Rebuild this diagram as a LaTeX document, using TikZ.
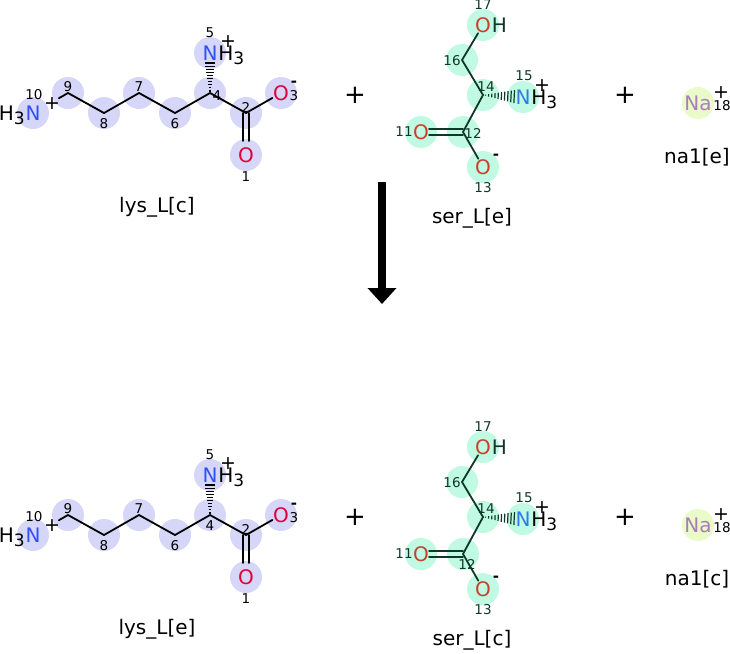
\documentclass[tikz,border=0pt]{standalone}
\usepackage{fontspec}
\setmainfont{DejaVu Sans}
\usetikzlibrary{calc,arrows.meta}
\definecolor{lav}{RGB}{214,214,248}
\definecolor{mint}{RGB}{192,250,226}
\definecolor{nacirc}{RGB}{234,250,200}
\definecolor{nblue}{RGB}{48,80,248}
\definecolor{sblue}{RGB}{45,125,230}
\definecolor{ored}{RGB}{224,0,58}
\definecolor{sred}{RGB}{200,64,44}
\definecolor{napurple}{RGB}{170,125,185}
\definecolor{sdark}{RGB}{16,56,40}
\newcommand{\Hthree}{H\raisebox{-4pt}{\fontsize{17}{17}\selectfont 3}}
\tikzset{
  het/.style={font=\fontsize{20}{20}\selectfont, inner sep=0.5pt},
  hpart/.style={font=\fontsize{20}{20}\selectfont, inner sep=0pt},
  numlab/.style={font=\fontsize{13.5}{13.5}\selectfont, inner sep=0pt},
  chgplus/.style={font=\fontsize{19}{19}\selectfont, inner sep=0pt},
  chgminus/.style={font=\fontsize{15}{15}\selectfont\bfseries, inner sep=0pt},
  bond/.style={line width=1.8pt, line cap=round, line join=round},
  sbond/.style={bond, draw=sdark},
  hashline/.style={line width=1.2pt},
  molname/.style={font=\fontsize{20}{20}\selectfont, inner sep=0pt},
  bigplus/.style={font=\fontsize{26}{26}\selectfont, inner sep=0pt},
}
\newcommand{\hashwedge}[6]{%
  \foreach \i in {0,...,9}{%
    \pgfmathsetmacro\hwt{#3+(#4-#3)*\i/9}%
    \pgfmathsetlengthmacro\hww{0.6+(#5-0.6)*\i/9}%
    \coordinate (hwp) at ($(#1)!\hwt!(#2)$);
    \draw[hashline, draw=#6] ($(hwp)!\hww!90:(#2)$) -- ($(hwp)!\hww!-90:(#2)$);
  }}
% #1 prefix, #2 y shift, #3 name, #4 position of label 4
\newcommand{\lysmol}[4]{%
\begin{scope}[shift={(0,#2)}]
  \coordinate (#1a10) at (33,113);
  \coordinate (#1a9) at (68,93);
  \coordinate (#1a8) at (104,113);
  \coordinate (#1a7) at (139,93);
  \coordinate (#1a6) at (175,113);
  \coordinate (#1a4) at (210,93);
  \coordinate (#1a2) at (246,113);
  \coordinate (#1a3) at (281,93);
  \coordinate (#1a1) at (246,155);
  \coordinate (#1a5) at (210,53);
  \foreach \k in {1,...,10} \fill[lav] (#1a\k) circle (16pt);
  \node[het, text=nblue] (#1N10) at (#1a10) {N};
  \node[hpart, anchor=base east] (#1H10) at (#1N10.base west) {\Hthree};
  \node[chgplus] (#1p10) at (52,104) {+};
  \node[numlab] (#1n10) at (34,95) {10};
  \node[het, text=nblue] (#1N5) at (#1a5) {N};
  \node[hpart, anchor=base west] (#1H5) at (#1N5.base east) {\Hthree};
  \node[chgplus] (#1p5) at (228,42) {+};
  \node[numlab] (#1n5) at (210,33) {5};
  \node[het, text=ored] (#1O3) at (#1a3) {O};
  \node[chgminus] (#1m3) at (294,84) {-};
  \node[numlab] (#1n3) at (294,96) {3};
  \node[het, text=ored] (#1O1) at (#1a1) {O};
  \node[numlab] (#1n1) at (246,177) {1};
  \node[numlab] (#1n9) at (68,87) {9};
  \node[numlab] (#1n8) at (104,124) {8};
  \node[numlab] (#1n7) at (139,87) {7};
  \node[numlab] (#1n6) at (175,124) {6};
  \node[numlab] (#1n4) at (#4) {4};
  \node[numlab] (#1n2) at (246,107) {2};
  \draw[bond] ($(#1a10)!0.74!(#1a9)$) -- (#1a9) -- (#1a8) -- (#1a7) -- (#1a6) -- (#1a4) -- (#1a2) -- (#1O3);
  \draw[bond] ($(#1a2)+(-3,0)$) -- ($(#1a1)+(-3,-14)$);
  \draw[bond] ($(#1a2)+(3,0)$) -- ($(#1a1)+(3,-14)$);
  \hashwedge{#1a4}{#1a5}{0.05}{0.75}{5}{black}
  \node[molname] (#1name) at (157,207) {#3};
\end{scope}}
% #1 prefix, #2 y shift, #3 name, #4 position of label 12
\newcommand{\sermol}[4]{%
\begin{scope}[shift={(0,#2)}]
  \coordinate (#1s17) at (483,25);
  \coordinate (#1s16) at (462,60);
  \coordinate (#1s14) at (483,95);
  \coordinate (#1s15) at (523,97);
  \coordinate (#1s12) at (463,132);
  \coordinate (#1s11) at (421,132);
  \coordinate (#1s13) at (483,167);
  \foreach \k in {11,...,17} \fill[mint] (#1s\k) circle (16pt);
  \node[het, text=sred] (#1O17) at (#1s17) {O};
  \node[hpart, anchor=base west, text=sdark] (#1H17) at (#1O17.base east) {H};
  \node[het, text=sblue] (#1N15) at (#1s15) {N};
  \node[hpart, anchor=base west] (#1H15) at (#1N15.base east) {\Hthree};
  \node[chgplus] (#1p15) at (542,86) {+};
  \node[het, text=sred] (#1O11) at (#1s11) {O};
  \node[het, text=sred] (#1O13) at (#1s13) {O};
  \node[chgminus] (#1m13) at (496,157) {-};
  \node[numlab, text=sdark] (#1n17) at (483,5) {17};
  \node[numlab, text=sdark] (#1n16) at (452,61) {16};
  \node[numlab, text=sdark] (#1n14) at (486,87) {14};
  \node[numlab, text=sdark] (#1n15) at (524,76) {15};
  \node[numlab, text=sdark] (#1n11) at (404,132) {11};
  \node[numlab, text=sdark] (#1n12) at (#4) {12};
  \node[numlab, text=sdark] (#1n13) at (483,188) {13};
  \draw[sbond] (#1O17) -- (#1s16) -- (#1s14) -- (#1s12) -- (#1O13);
  \draw[sbond] ($(#1s12)+(0,-3)$) -- ($(#1s11)+(8,-3)$);
  \draw[sbond] ($(#1s12)+(0,3)$) -- ($(#1s11)+(8,3)$);
  \hashwedge{#1s14}{#1s15}{0.06}{0.78}{6.5}{sdark}
  \node[molname] (#1name) at (472,218) {#3};
\end{scope}}
\newcommand{\namol}[3]{%
\begin{scope}[shift={(0,#2)}]
  \coordinate (#1na) at (698,103);
  \fill[nacirc] (#1na) circle (16pt);
  \node[het, text=napurple] (#1Na) at (#1na) {Na};
  \node[chgplus] (#1p18) at (721,93) {+};
  \node[numlab] (#1n18) at (722,106) {18};
  \node[molname] (#1name) at (697,157) {#3};
\end{scope}}
\begin{document}
\begin{tikzpicture}[x=1pt,y=-1pt]
\useasboundingbox (0,0) rectangle (730,653);
\lysmol{t}{0}{lys\_L[c]}{217,96}
\sermol{t}{0}{ser\_L[e]}{473,133}
\namol{t}{0}{na1[e]}
\node[bigplus] (plusA) at (355,95) {+};
\node[bigplus] (plusB) at (625,95) {+};
\coordinate (arrS) at (382,182);
\coordinate (arrE) at (382,304);
\draw[line width=8pt, -{Triangle[width=28pt,length=16pt]}] (arrS) -- (arrE);
\lysmol{b}{422}{lys\_L[e]}{210,104}
\sermol{b}{422}{ser\_L[c]}{467,142}
\namol{b}{422}{na1[c]}
\node[bigplus] (plusC) at (355,517) {+};
\node[bigplus] (plusD) at (625,517) {+};
\end{tikzpicture}
\end{document}
